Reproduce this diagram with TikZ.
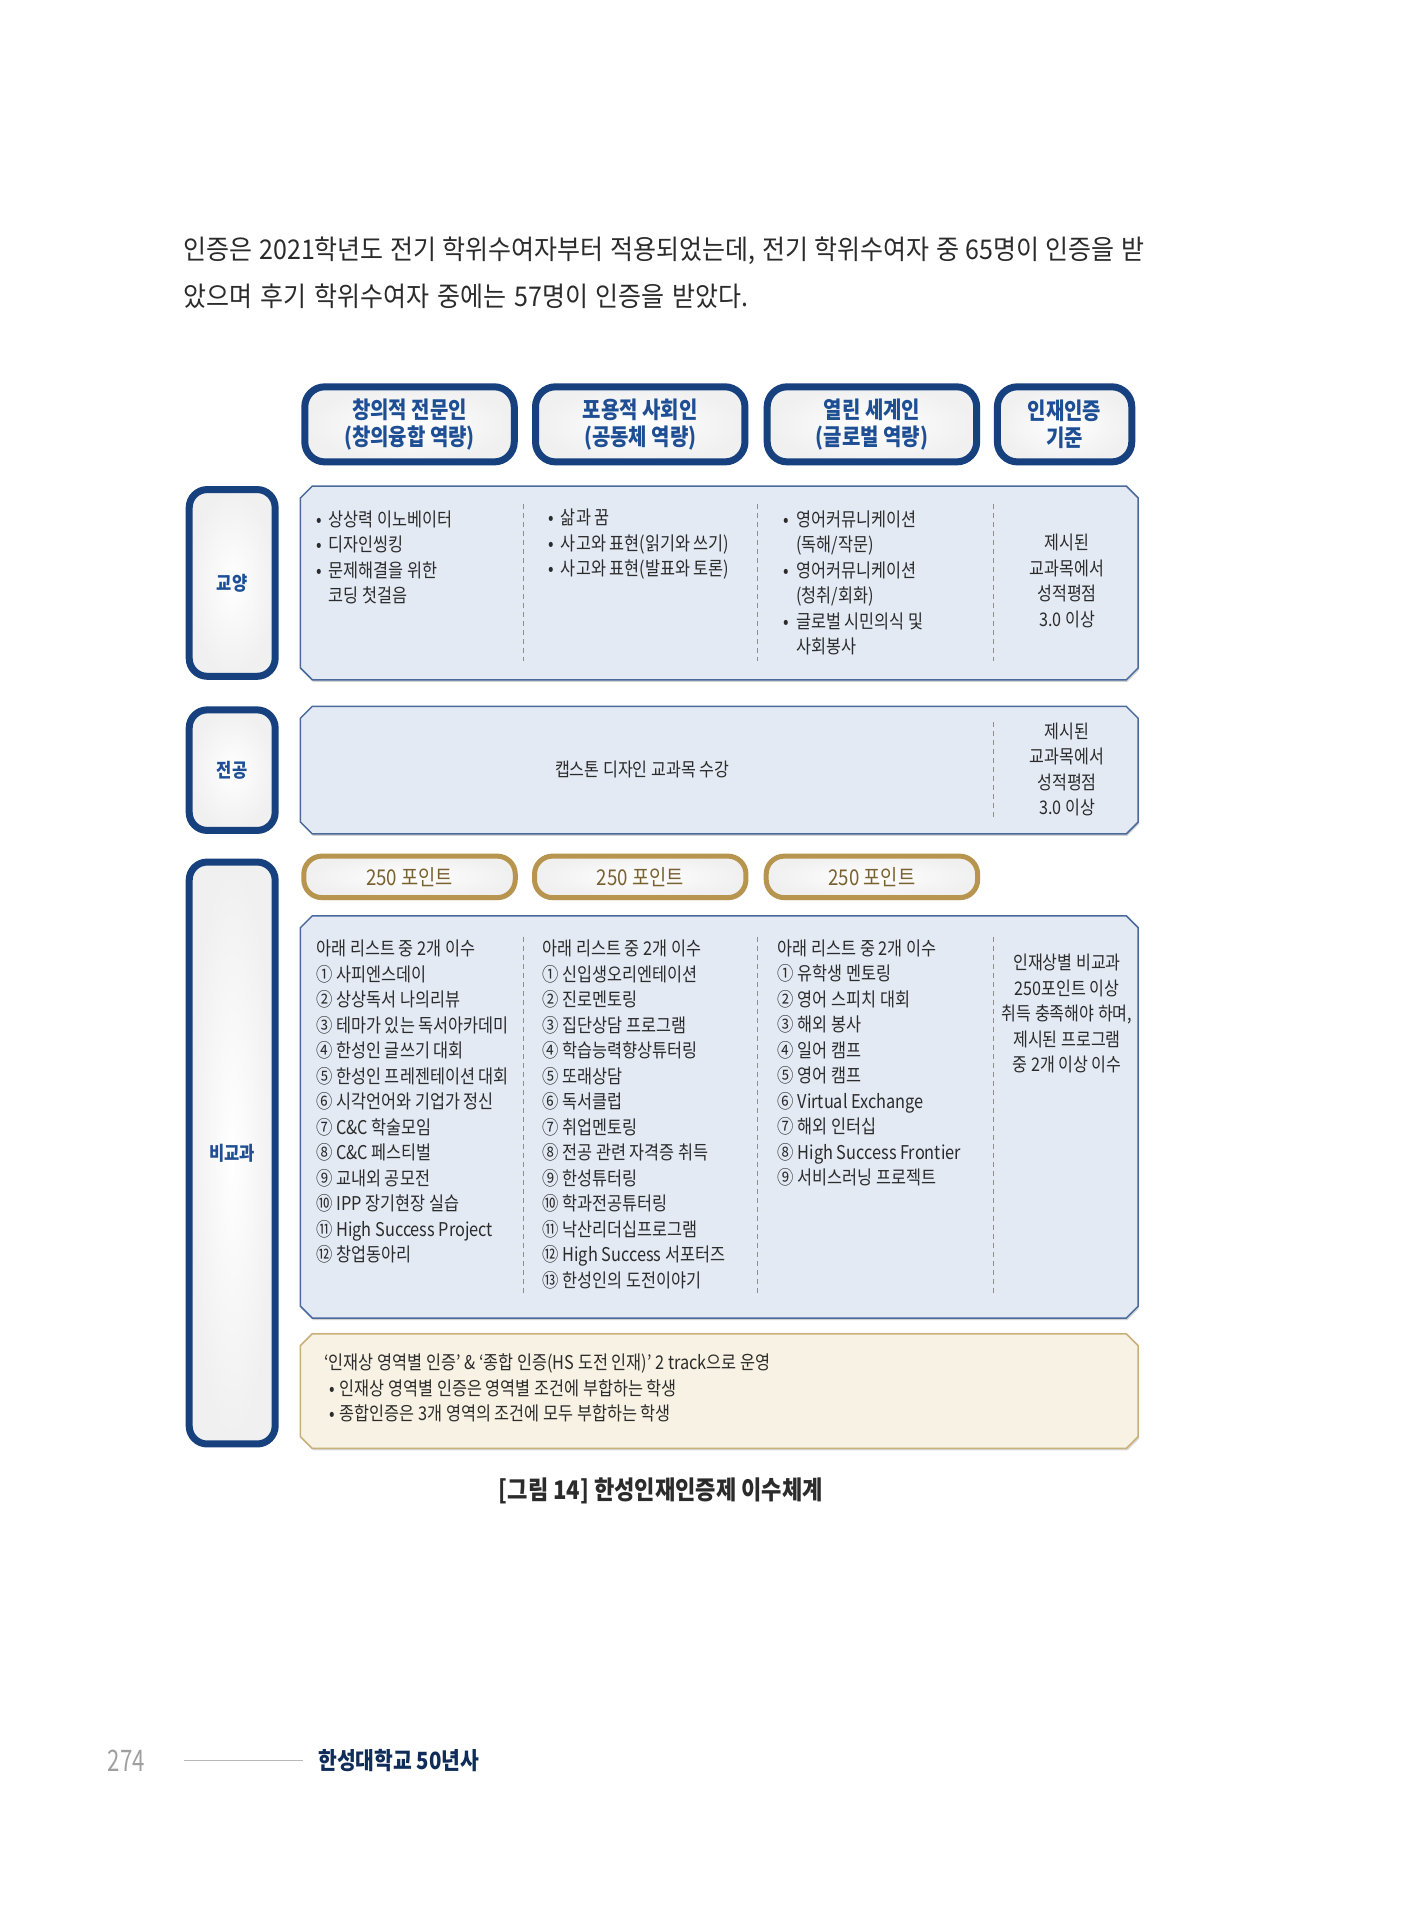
\documentclass[tikz,border=0pt]{standalone}
\usepackage{fontspec}
\setmainfont[FakeStretch=0.86]{Noto Sans CJK KR}
\newfontfamily\bodyfont[FakeStretch=0.92, WordSpace=1.4]{Noto Sans CJK KR}
\newfontfamily\pagefont[FakeStretch=0.75]{Noto Sans CJK KR}
\usetikzlibrary{shadows}

\definecolor{hsnavy}{HTML}{17407F}
\definecolor{hsblue}{HTML}{1E4F95}
\definecolor{hspanelfill}{HTML}{E3EAF4}
\definecolor{hsedge}{HTML}{4A6A9C}
\definecolor{hsgold}{HTML}{B8954E}
\definecolor{hsgoldtext}{HTML}{7A6230}
\definecolor{hsbeige}{HTML}{F7F2E3}
\definecolor{hsbeigeedge}{HTML}{C9B07A}
\definecolor{hstext}{HTML}{2B2B2B}
\definecolor{hsdash}{HTML}{8E8E8E}

% bullet with its gap, and the same gap for wrapped lines
\newcommand{\hsbul}{•\hspace{7pt}}
\newcommand{\hsind}{\hphantom{\hsbul}}

% chamfered panel: x1 y1 x2 y2 style
\newcommand{\hspanel}[5]{%
  \draw[#5] (#1+12,#2) -- (#3-12,#2) -- (#3,#2+12) -- (#3,#4-12) -- (#3-12,#4)
    -- (#1+12,#4) -- (#1,#4-12) -- (#1,#2+12) -- cycle;}

\begin{document}
\begin{tikzpicture}[x=1pt, y=-1pt, scale=0.988, transform shape,
    headbox/.style = {draw=hsnavy, line width=7pt, rounded corners=20pt, inner color=white, outer color=gray!12,
      minimum height=76pt, align=center, text=hsblue, font=\fontsize{23.5}{27}\selectfont\bfseries,
      drop shadow={shadow xshift=1.5pt, shadow yshift=-3pt, opacity=.3}},
    labbox/.style = {draw=hsnavy, line width=7pt, rounded corners=18pt, inner color=white, outer color=gray!12,
      minimum width=87pt, text=hsblue, font=\fontsize{19.5}{24}\selectfont\bfseries,
      drop shadow={shadow xshift=1.5pt, shadow yshift=-3pt, opacity=.3}},
    ptbox/.style = {draw=hsgold, line width=5pt, rounded corners=18pt, inner color=white, outer color=gray!12,
      minimum width=214pt, minimum height=42pt, text=hsgoldtext, font=\fontsize{22}{24}\selectfont,
      drop shadow={shadow xshift=1.5pt, shadow yshift=-2.5pt, opacity=.3}},
    panel/.style = {draw=hsedge, line width=1.5pt, fill=hspanelfill,
      drop shadow={shadow xshift=1pt, shadow yshift=-2pt, opacity=.35}},
    beige/.style = {draw=hsbeigeedge, line width=1.5pt, fill=hsbeige,
      drop shadow={shadow xshift=1pt, shadow yshift=-2pt, opacity=.3}},
    item/.style = {anchor=west, align=left, inner sep=0pt, text=hstext, font=\fontsize{19.2}{25.8}\selectfont},
    crit/.style = {align=center, inner sep=0pt, text=hstext, font=\fontsize{19}{25.8}\selectfont},
    sep/.style = {draw=hsdash, line width=0.8pt, dash pattern=on 5pt off 4pt}]

\fill[white] (0,0) rectangle (1417,1943.3);
\useasboundingbox (0,0) rectangle (1417,1943.3);

% running text
\node[anchor=west, inner sep=0pt, text=hstext, font=\bodyfont\fontsize{27.5}{46}\selectfont] (body1) at (186,254)
  {\makebox[972pt][s]{인증은 2021학년도 전기 학위수여자부터 적용되었는데, 전기 학위수여자 중 65명이 인증을 받}};
\node[anchor=west, inner sep=0pt, text=hstext, font=\bodyfont\fontsize{27.5}{46}\selectfont] (body2) at (186,300)
  {았으며 후기 학위수여자 중에는 57명이 인증을 받았다.};

% column heads
\node[headbox, minimum width=212pt] (hd1) at (414.5,429.5) {창의적 전문인\\(창의융합 역량)};
\node[headbox, minimum width=212pt] (hd2) at (648,429.5) {포용적 사회인\\(공동체 역량)};
\node[headbox, minimum width=212pt] (hd3) at (882.5,429.5) {열린 세계인\\(글로벌 역량)};
\node[headbox, minimum width=136pt] (hd4) at (1077.5,429.5) {인재인증\\기준};

% row labels
\node[labbox, minimum height=189pt] (gy) at (235,590) {교양};
\node[labbox, minimum height=122pt] (jg) at (235,779.5) {전공};
\node[labbox, minimum height=589pt] (bg) at (235,1167) {비교과};

% 교양
\hspanel{304}{492}{1152}{688}{panel}
\draw[sep] (530,510) -- (530,669);
\draw[sep] (767,510) -- (767,669);
\draw[sep] (1005,510) -- (1005,669);
\node[item] (gy1) at (320,564) {\hsbul 상상력 이노베이터\\\hsbul 디자인씽킹\\\hsbul 문제해결을 위한\\\hsind 코딩 첫걸음};
\node[item] (gy2) at (555,551) {\hsbul 삶과 꿈\\\hsbul 사고와 표현(읽기와 쓰기)\\\hsbul 사고와 표현(발표와 토론)};
\node[item] (gy3) at (793,590) {\hsbul 영어커뮤니케이션\\\hsind (독해/작문)\\\hsbul 영어커뮤니케이션\\\hsind (청취/회화)\\\hsbul 글로벌 시민의식 및\\\hsind 사회봉사};
\node[crit] (gy4) at (1080,588) {제시된\\교과목에서\\성적평점\\3.0 이상};

% 전공
\hspanel{304}{715}{1152}{844}{panel}
\draw[sep] (1005,731) -- (1005,828);
\node[crit] (jg1) at (650,779) {캡스톤 디자인 교과목 수강};
\node[crit] (jg4) at (1080,779) {제시된\\교과목에서\\성적평점\\3.0 이상};

% 비교과
\node[ptbox] (pt1) at (414.5,887.5) {250 포인트};
\node[ptbox] (pt2) at (648,887.5) {250 포인트};
\node[ptbox] (pt3) at (882.5,887.5) {250 포인트};

\hspanel{304}{927}{1152}{1334}{panel}
\draw[sep] (530,948) -- (530,1311);
\draw[sep] (767,948) -- (767,1311);
\draw[sep] (1005,948) -- (1005,1311);
\node[item] (bg1) at (320,1115) {아래 리스트 중 2개 이수\\① 사피엔스데이\\② 상상독서 나의리뷰\\③ 테마가 있는 독서아카데미\\④ 한성인 글쓰기 대회\\⑤ 한성인 프레젠테이션 대회\\⑥ 시각언어와 기업가 정신\\⑦ C\&C 학술모임\\⑧ C\&C 페스티벌\\⑨ 교내외 공모전\\⑩ IPP 장기현장 실습\\⑪ High Success Project\\⑫ 창업동아리};
\node[item] (bg2) at (549,1128) {아래 리스트 중 2개 이수\\① 신입생오리엔테이션\\② 진로멘토링\\③ 집단상담 프로그램\\④ 학습능력향상튜터링\\⑤ 또래상담\\⑥ 독서클럽\\⑦ 취업멘토링\\⑧ 전공 관련 자격증 취득\\⑨ 한성튜터링\\⑩ 학과전공튜터링\\⑪ 낙산리더십프로그램\\⑫ High Success 서포터즈\\⑬ 한성인의 도전이야기};
\node[item] (bg3) at (787,1076) {아래 리스트 중 2개 이수\\① 유학생 멘토링\\② 영어 스피치 대회\\③ 해외 봉사\\④ 일어 캠프\\⑤ 영어 캠프\\⑥ Virtual Exchange\\⑦ 해외 인터십\\⑧ High Success Frontier\\⑨ 서비스러닝 프로젝트};
\node[crit] (bg4) at (1080,1026) {인재상별 비교과\\250포인트 이상\\취득 충족해야 하며,\\제시된 프로그램\\중 2개 이상 이수};

\hspanel{304}{1350}{1152}{1466}{beige}
\node[item] (track) at (328,1405) {‘인재상 영역별 인증’ \& ‘종합 인증(HS 도전 인재)’ 2 track으로 운영\\\hspace{5pt}•\hspace{5pt}인재상 영역별 인증은 영역별 조건에 부합하는 학생\\\hspace{5pt}•\hspace{5pt}종합인증은 3개 영역의 조건에 모두 부합하는 학생};

% caption and footer
\node[text=hstext, font=\fontsize{26}{30}\selectfont\bfseries] (cap) at (669,1509) {[그림 14] 한성인재인증제 이수체계};
\node[anchor=west, inner sep=0pt, text=gray!75, font=\pagefont\fontsize{30}{34}\selectfont] (pg) at (109,1782) {274};
\coordinate (rule1) at (186,1782);
\coordinate (rule2) at (307,1782);
\draw[gray!55, line width=1.5pt] (rule1) -- (rule2);
\node[anchor=west, inner sep=0pt, text=hsnavy!70!black, font=\fontsize{24}{28}\selectfont\bfseries] (book) at (322,1782) {한성대학교 50년사};
\end{tikzpicture}
\end{document}
